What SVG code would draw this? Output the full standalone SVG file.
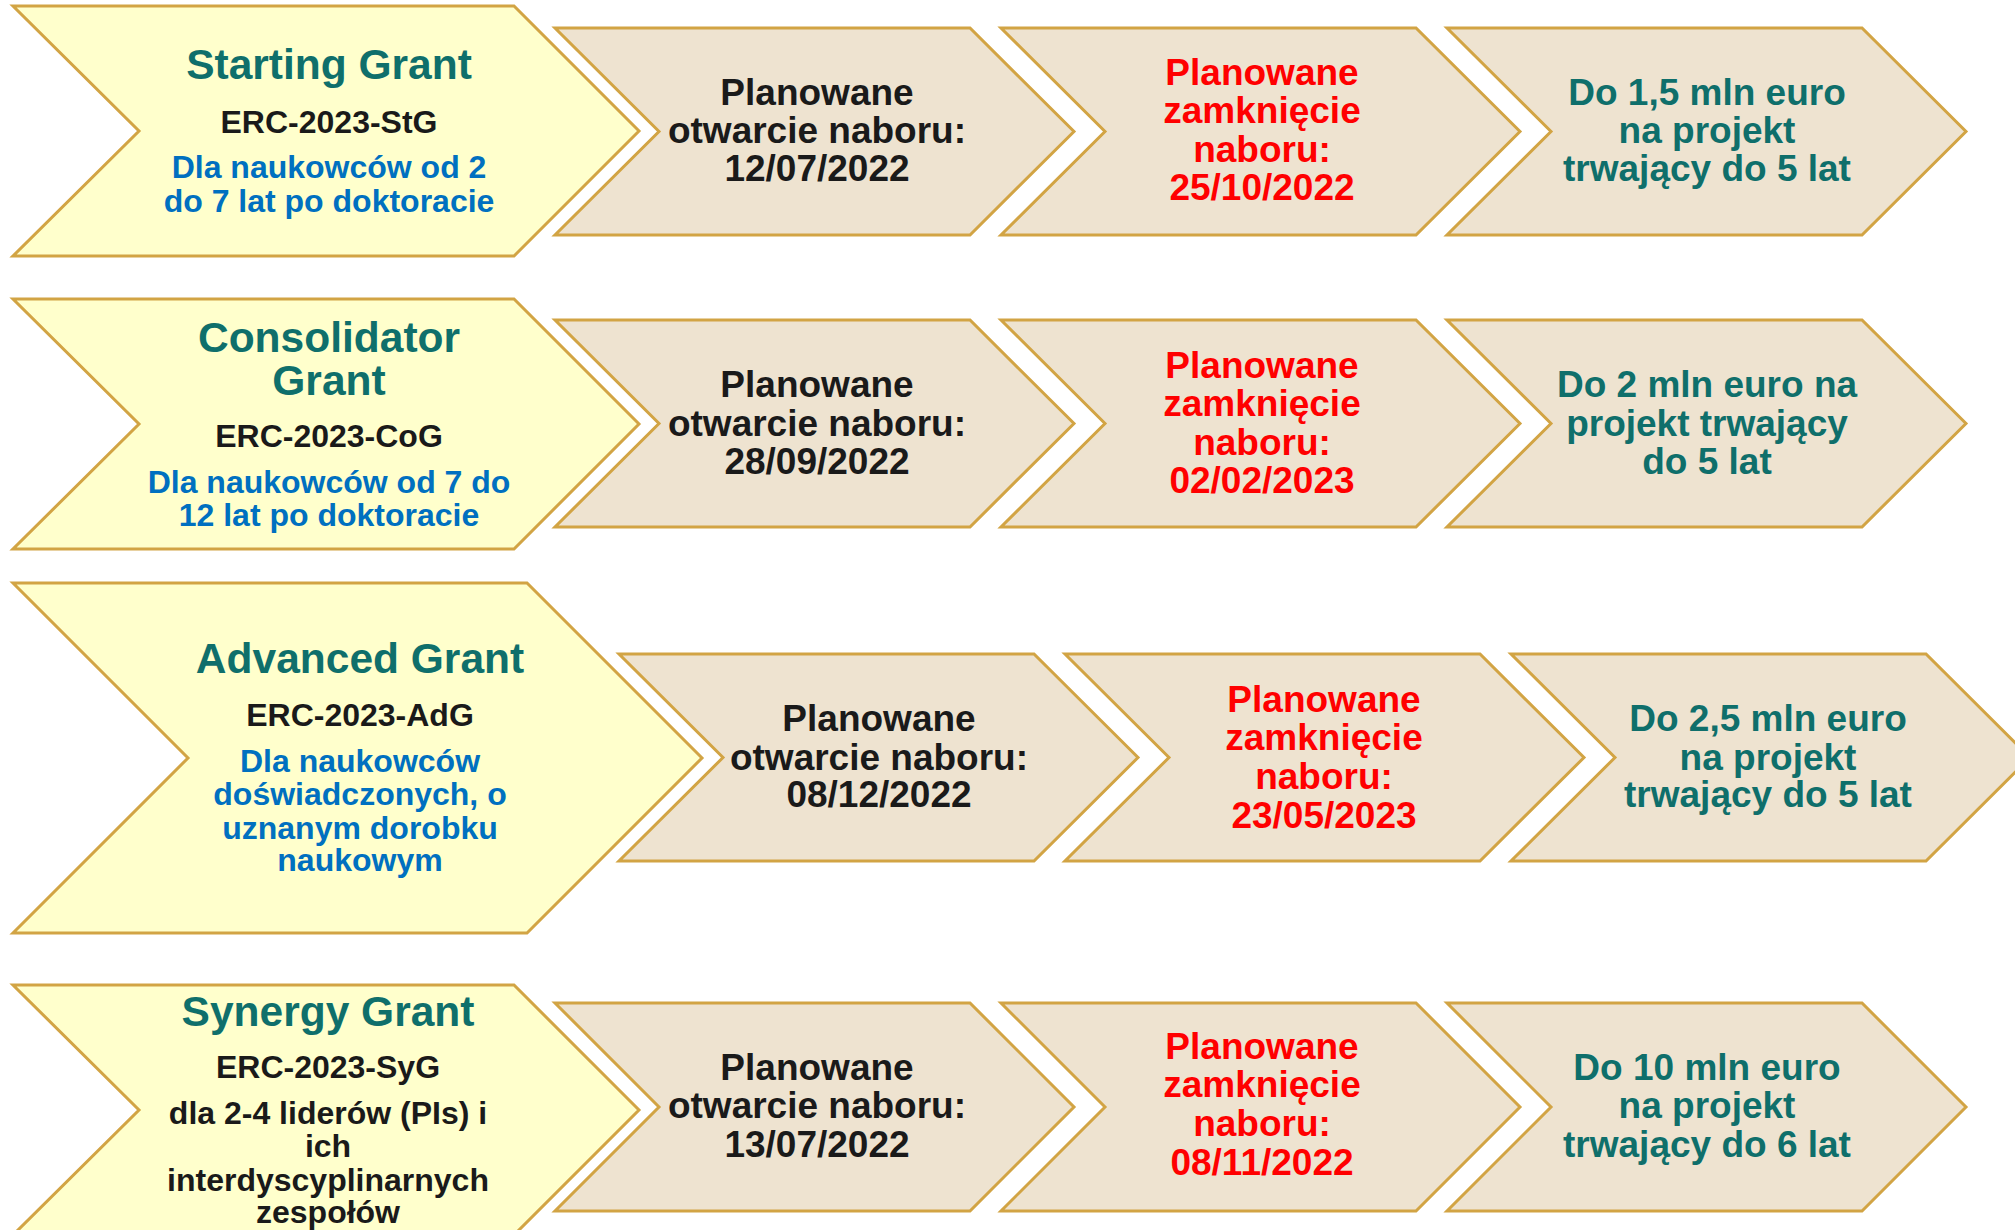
<svg xmlns="http://www.w3.org/2000/svg" width="2015" height="1230" viewBox="0 0 2015 1230">
<style>
.y{fill:#FFFFCC;stroke:#D2A444;stroke-width:3;stroke-linejoin:miter}
.b{fill:#EEE3D0;stroke:#D2A444;stroke-width:3;stroke-linejoin:miter}
text{font-family:"Liberation Sans",Arial,sans-serif;font-weight:bold;text-anchor:middle}
.t{font-size:42.5px;fill:#0F6F6B}
.c{font-size:32px;fill:#1A1A1A}
.u{font-size:32px;fill:#0070C0}
.k{font-size:37px;fill:#1A1A1A}
.r{font-size:37px;fill:#FF0000}
.g{font-size:37px;fill:#0F6F6B}
</style>
<rect width="2015" height="1230" fill="#FFFFFF"/>
<g id="connectors"/>

<g id="stg">
<polygon class="y" points="13,6 514,6 639,131 514,256 13,256 139,131"/>
<text class="t" x="329" y="79">Starting Grant</text>
<text class="c" x="329" y="133">ERC-2023-StG</text>
<text class="u" x="329" y="178">Dla naukowców od 2</text>
<text class="u" x="329" y="212">do 7 lat po doktoracie</text>
</g>
<g id="stg-open">
<polygon class="b" points="555,28 970,28 1074,131.5 970,235 555,235 659,131.5"/>
<text class="k" x="817" y="105">Planowane</text>
<text class="k" x="817" y="143">otwarcie naboru:</text>
<text class="k" x="817" y="181">12/07/2022</text>
</g>
<g id="stg-close">
<polygon class="b" points="1001,28 1416,28 1520,131.5 1416,235 1001,235 1105,131.5"/>
<text class="r" x="1262" y="85">Planowane</text>
<text class="r" x="1262" y="123">zamknięcie</text>
<text class="r" x="1262" y="162">naboru:</text>
<text class="r" x="1262" y="200">25/10/2022</text>
</g>
<g id="stg-budget">
<polygon class="b" points="1447,28 1862,28 1966,131.5 1862,235 1447,235 1551,131.5"/>
<text class="g" x="1707" y="105">Do 1,5 mln euro</text>
<text class="g" x="1707" y="143">na projekt</text>
<text class="g" x="1707" y="181">trwający do 5 lat</text>
</g>

<g id="cog">
<polygon class="y" points="13,299 514,299 639,424 514,549 13,549 139,424"/>
<text class="t" x="329" y="352">Consolidator</text>
<text class="t" x="329" y="395">Grant</text>
<text class="c" x="329" y="447">ERC-2023-CoG</text>
<text class="u" x="329" y="493">Dla naukowców od 7 do</text>
<text class="u" x="329" y="526">12 lat po doktoracie</text>
</g>
<g id="cog-open">
<polygon class="b" points="555,320 970,320 1074,423.5 970,527 555,527 659,423.5"/>
<text class="k" x="817" y="397">Planowane</text>
<text class="k" x="817" y="436">otwarcie naboru:</text>
<text class="k" x="817" y="474">28/09/2022</text>
</g>
<g id="cog-close">
<polygon class="b" points="1001,320 1416,320 1520,423.5 1416,527 1001,527 1105,423.5"/>
<text class="r" x="1262" y="378">Planowane</text>
<text class="r" x="1262" y="416">zamknięcie</text>
<text class="r" x="1262" y="455">naboru:</text>
<text class="r" x="1262" y="493">02/02/2023</text>
</g>
<g id="cog-budget">
<polygon class="b" points="1447,320 1862,320 1966,423.5 1862,527 1447,527 1551,423.5"/>
<text class="g" x="1707" y="397">Do 2 mln euro na</text>
<text class="g" x="1707" y="436">projekt trwający</text>
<text class="g" x="1707" y="474">do 5 lat</text>
</g>

<g id="adg">
<polygon class="y" points="13,583 527,583 702,758 527,933 13,933 188,758"/>
<text class="t" x="360" y="673">Advanced Grant</text>
<text class="c" x="360" y="726">ERC-2023-AdG</text>
<text class="u" x="360" y="772">Dla naukowców</text>
<text class="u" x="360" y="805">doświadczonych, o</text>
<text class="u" x="360" y="839">uznanym dorobku</text>
<text class="u" x="360" y="871">naukowym</text>
</g>
<g id="adg-open">
<polygon class="b" points="619,654 1034,654 1138,757.5 1034,861 619,861 723,757.5"/>
<text class="k" x="879" y="731">Planowane</text>
<text class="k" x="879" y="770">otwarcie naboru:</text>
<text class="k" x="879" y="807">08/12/2022</text>
</g>
<g id="adg-close">
<polygon class="b" points="1065,654 1480,654 1584,757.5 1480,861 1065,861 1169,757.5"/>
<text class="r" x="1324" y="712">Planowane</text>
<text class="r" x="1324" y="750">zamknięcie</text>
<text class="r" x="1324" y="789">naboru:</text>
<text class="r" x="1324" y="828">23/05/2023</text>
</g>
<g id="adg-budget">
<polygon class="b" points="1511,654 1926,654 2030,757.5 1926,861 1511,861 1615,757.5"/>
<text class="g" x="1768" y="731">Do 2,5 mln euro</text>
<text class="g" x="1768" y="770">na projekt</text>
<text class="g" x="1768" y="807">trwający do 5 lat</text>
</g>

<g id="syg">
<polygon class="y" points="13,985 514,985 639,1110 514,1235 13,1235 139,1110"/>
<text class="t" x="328" y="1026">Synergy Grant</text>
<text class="c" x="328" y="1078">ERC-2023-SyG</text>
<text class="c" x="328" y="1124">dla 2-4 liderów (PIs) i</text>
<text class="c" x="328" y="1157">ich</text>
<text class="c" x="328" y="1191">interdyscyplinarnych</text>
<text class="c" x="328" y="1223">zespołów</text>
</g>
<g id="syg-open">
<polygon class="b" points="555,1003 970,1003 1074,1107 970,1211 555,1211 659,1107"/>
<text class="k" x="817" y="1080">Planowane</text>
<text class="k" x="817" y="1118">otwarcie naboru:</text>
<text class="k" x="817" y="1157">13/07/2022</text>
</g>
<g id="syg-close">
<polygon class="b" points="1001,1003 1416,1003 1520,1107 1416,1211 1001,1211 1105,1107"/>
<text class="r" x="1262" y="1059">Planowane</text>
<text class="r" x="1262" y="1097">zamknięcie</text>
<text class="r" x="1262" y="1136">naboru:</text>
<text class="r" x="1262" y="1175">08/11/2022</text>
</g>
<g id="syg-budget">
<polygon class="b" points="1447,1003 1862,1003 1966,1107 1862,1211 1447,1211 1551,1107"/>
<text class="g" x="1707" y="1080">Do 10 mln euro</text>
<text class="g" x="1707" y="1118">na projekt</text>
<text class="g" x="1707" y="1157">trwający do 6 lat</text>
</g>
</svg>
